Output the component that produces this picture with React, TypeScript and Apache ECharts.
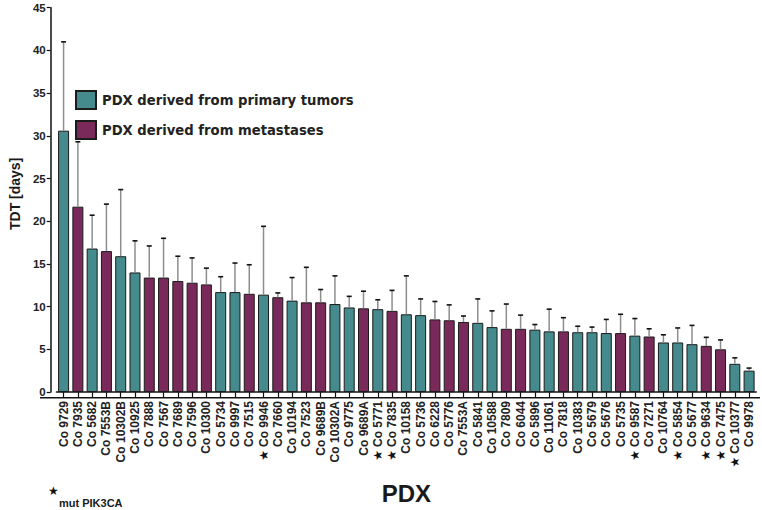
import React, { useEffect, useRef } from "react";
import * as echarts from "echarts";

const categories = [
  "Co 9729", "Co 7935", "Co 5682", "Co 7553B", "Co 10302B", "Co 10925", "Co 7888",
  "Co 7567", "Co 7689", "Co 7596", "Co 10300", "Co 5734", "Co 9997", "Co 7515",
  "Co 9946", "Co 7660", "Co 10194", "Co 7523", "Co 9689B", "Co 10302A", "Co 9775",
  "Co 9689A", "Co 5771", "Co 7835", "Co 10158", "Co 5736", "Co 6228", "Co 5776",
  "Co 7553A", "Co 5841", "Co 10588", "Co 7809", "Co 6044", "Co 5896", "Co 11061",
  "Co 7818", "Co 10383", "Co 5679", "Co 5676", "Co 5735", "Co 9587", "Co 7271",
  "Co 10764", "Co 5854", "Co 5677", "Co 9634", "Co 7475", "Co 10377", "Co 9978",
];

// P = derived from primary tumor, M = derived from metastasis
const origin = [
  "P", "M", "P", "M", "P", "P", "M",
  "M", "M", "M", "M", "P", "P", "M",
  "P", "M", "P", "M", "M", "P", "P",
  "M", "P", "M", "P", "P", "M", "M",
  "M", "P", "P", "M", "M", "P", "P",
  "M", "P", "P", "P", "M", "P", "M",
  "P", "P", "P", "M", "M", "P", "P",
];

const tdtMean = [
  30.6, 21.7, 16.8, 16.5, 15.9, 14.0, 13.4,
  13.4, 13.0, 12.8, 12.6, 11.7, 11.7, 11.5,
  11.4, 11.1, 10.7, 10.5, 10.5, 10.3, 9.9,
  9.8, 9.7, 9.5, 9.1, 9.0, 8.5, 8.4,
  8.2, 8.1, 7.6, 7.4, 7.4, 7.3, 7.1,
  7.1, 7.0, 7.0, 6.9, 6.9, 6.6, 6.5,
  5.8, 5.8, 5.6, 5.4, 5.0, 3.3, 2.5,
];

// upper end of the error bar (mean + SD)
const tdtErrTop = [
  41.0, 29.3, 20.7, 22.0, 23.7, 17.7, 17.1,
  18.0, 15.9, 15.7, 14.5, 13.5, 15.1, 14.9,
  19.4, 11.6, 13.4, 14.6, 12.0, 13.6, 11.2,
  11.8, 10.8, 11.9, 13.6, 10.9, 10.6, 10.2,
  8.9, 10.9, 9.5, 10.3, 9.0, 7.9, 9.7,
  8.7, 7.7, 7.6, 8.5, 9.1, 8.6, 7.4,
  6.7, 7.5, 7.8, 6.4, 6.1, 4.0, 2.8,
];

const mutPIK3CA = ["Co 9946", "Co 5771", "Co 7835", "Co 9587", "Co 5854", "Co 9634", "Co 7475", "Co 10377"];

const yMin = 0;
const yMax = 45;
const yInterval = 5;

const seriesNames = ["PDX derived from primary tumors", "PDX derived from metastases"];

const TEAL = "#458a8c";
const PURPLE = "#7a2a5a";

const W = 762;
const H = 510;
const GRID = { left: 45.75, right: 5.75, top: 7.7, bottom: 112.3 };
const FONT = "'Liberation Sans', Arial, Helvetica, sans-serif";

export default function App() {
  const ref = useRef<HTMLDivElement | null>(null);

  useEffect(() => {
    if (!ref.current) return;
    const chart = echarts.init(ref.current, undefined, { renderer: "svg" });

    const primaryData = tdtMean.map((v, i) => (origin[i] === "P" ? v : "-"));
    const metaData = tdtMean.map((v, i) => (origin[i] === "M" ? v : "-"));
    const errData = categories.map((_, i) => [i, tdtMean[i], tdtErrTop[i]]);
    const axisY = H - GRID.bottom;

    const option: any = {
      animation: false,
      backgroundColor: "#ffffff",
      textStyle: { fontFamily: FONT },
      grid: { ...GRID, containLabel: false },
      legend: {
        orient: "vertical",
        left: 70,
        top: 85,
        itemWidth: 20,
        itemHeight: 18,
        itemGap: 10,
        icon: "rect",
        data: seriesNames,
        textStyle: {
          fontFamily: "'DejaVu Sans', sans-serif",
          fontSize: 13.2,
          fontWeight: "bold",
          color: "#222",
          padding: [0, 0, 0, 1],
        },
      },
      xAxis: {
        type: "category",
        data: categories,
        boundaryGap: true,
        name: "PDX",
        nameLocation: "middle",
        nameGap: 89,
        nameTextStyle: { fontSize: 24, fontWeight: "bold", color: "#1a1a1a", fontFamily: FONT },
        axisLine: { show: true, lineStyle: { color: "#111", width: 1.5 } },
        axisTick: { show: true, alignWithLabel: true, length: 5, lineStyle: { color: "#111", width: 1.2 } },
        axisLabel: {
          interval: 0,
          rotate: 90,
          margin: 9,
          fontSize: 12,
          fontWeight: "bold",
          color: "#222",
          fontFamily: FONT,
          formatter: (v: string) => (mutPIK3CA.includes(v) ? "{s|★}" + v : v),
          rich: {
            s: { fontSize: 12, color: "#111", padding: [0, 3, 0, 0], fontFamily: "'DejaVu Sans', sans-serif" },
          },
        },
        splitLine: { show: false },
      },
      yAxis: {
        type: "value",
        min: yMin,
        max: yMax,
        interval: yInterval,
        offset: GRID.left - 40,
        name: "TDT [days]",
        nameLocation: "middle",
        nameGap: 22,
        nameTextStyle: {
          fontSize: 14,
          fontWeight: "bold",
          color: "#1a1a1a",
          fontFamily: FONT,
          padding: [0, 0, 0, 12],
        },
        axisLine: { show: true, lineStyle: { color: "#111", width: 1.5 } },
        axisTick: { show: true, length: 4, lineStyle: { color: "#111", width: 1.2 } },
        axisLabel: { fontSize: 11.5, fontWeight: "bold", color: "#222", margin: 5, fontFamily: FONT },
        splitLine: { show: false },
      },
      graphic: [
        {
          type: "line",
          shape: { x1: 40, y1: axisY, x2: 760, y2: axisY },
          style: { stroke: "#111", lineWidth: 1.5 },
          z: 10,
        },
        {
          type: "text",
          left: 48,
          top: 485,
          style: { text: "★", fontSize: 12, fill: "#111", fontFamily: "'DejaVu Sans', sans-serif" },
        },
        {
          type: "text",
          left: 59,
          top: 497,
          style: { text: "mut PIK3CA", fontSize: 11, fontWeight: "bold", fill: "#1a1a1a", fontFamily: FONT },
        },
      ],
      series: [
        {
          name: seriesNames[0],
          type: "bar",
          data: primaryData,
          barWidth: 11,
          barGap: "-100%",
          itemStyle: { color: TEAL, borderColor: "#1b1b1b", borderWidth: 1 },
          z: 2,
        },
        {
          name: seriesNames[1],
          type: "bar",
          data: metaData,
          barWidth: 11,
          barGap: "-100%",
          itemStyle: { color: PURPLE, borderColor: "#1b1b1b", borderWidth: 1 },
          z: 2,
        },
        {
          name: "SD",
          type: "custom",
          silent: true,
          z: 3,
          encode: { x: 0, y: [1, 2] },
          data: errData,
          renderItem: (params: any, api: any) => {
            const idx = api.value(0);
            const base = api.coord([idx, api.value(1)]);
            const top = api.coord([idx, api.value(2)]);
            const cx = base[0];
            return {
              type: "group",
              children: [
                {
                  type: "line",
                  shape: { x1: cx, y1: base[1], x2: cx, y2: top[1] },
                  style: { stroke: "#8e8e8e", lineWidth: 1.5 },
                },
                {
                  type: "line",
                  shape: { x1: cx - 2.5, y1: top[1], x2: cx + 2.5, y2: top[1] },
                  style: { stroke: "#111", lineWidth: 1.6 },
                },
              ],
            };
          },
        },
      ],
    };

    chart.setOption(option);
    return () => chart.dispose();
  }, []);

  return (
    <div
      ref={ref}
      style={{ position: "fixed", left: 0, top: 0, width: W, height: H, background: "#fff" }}
    />
  );
}
